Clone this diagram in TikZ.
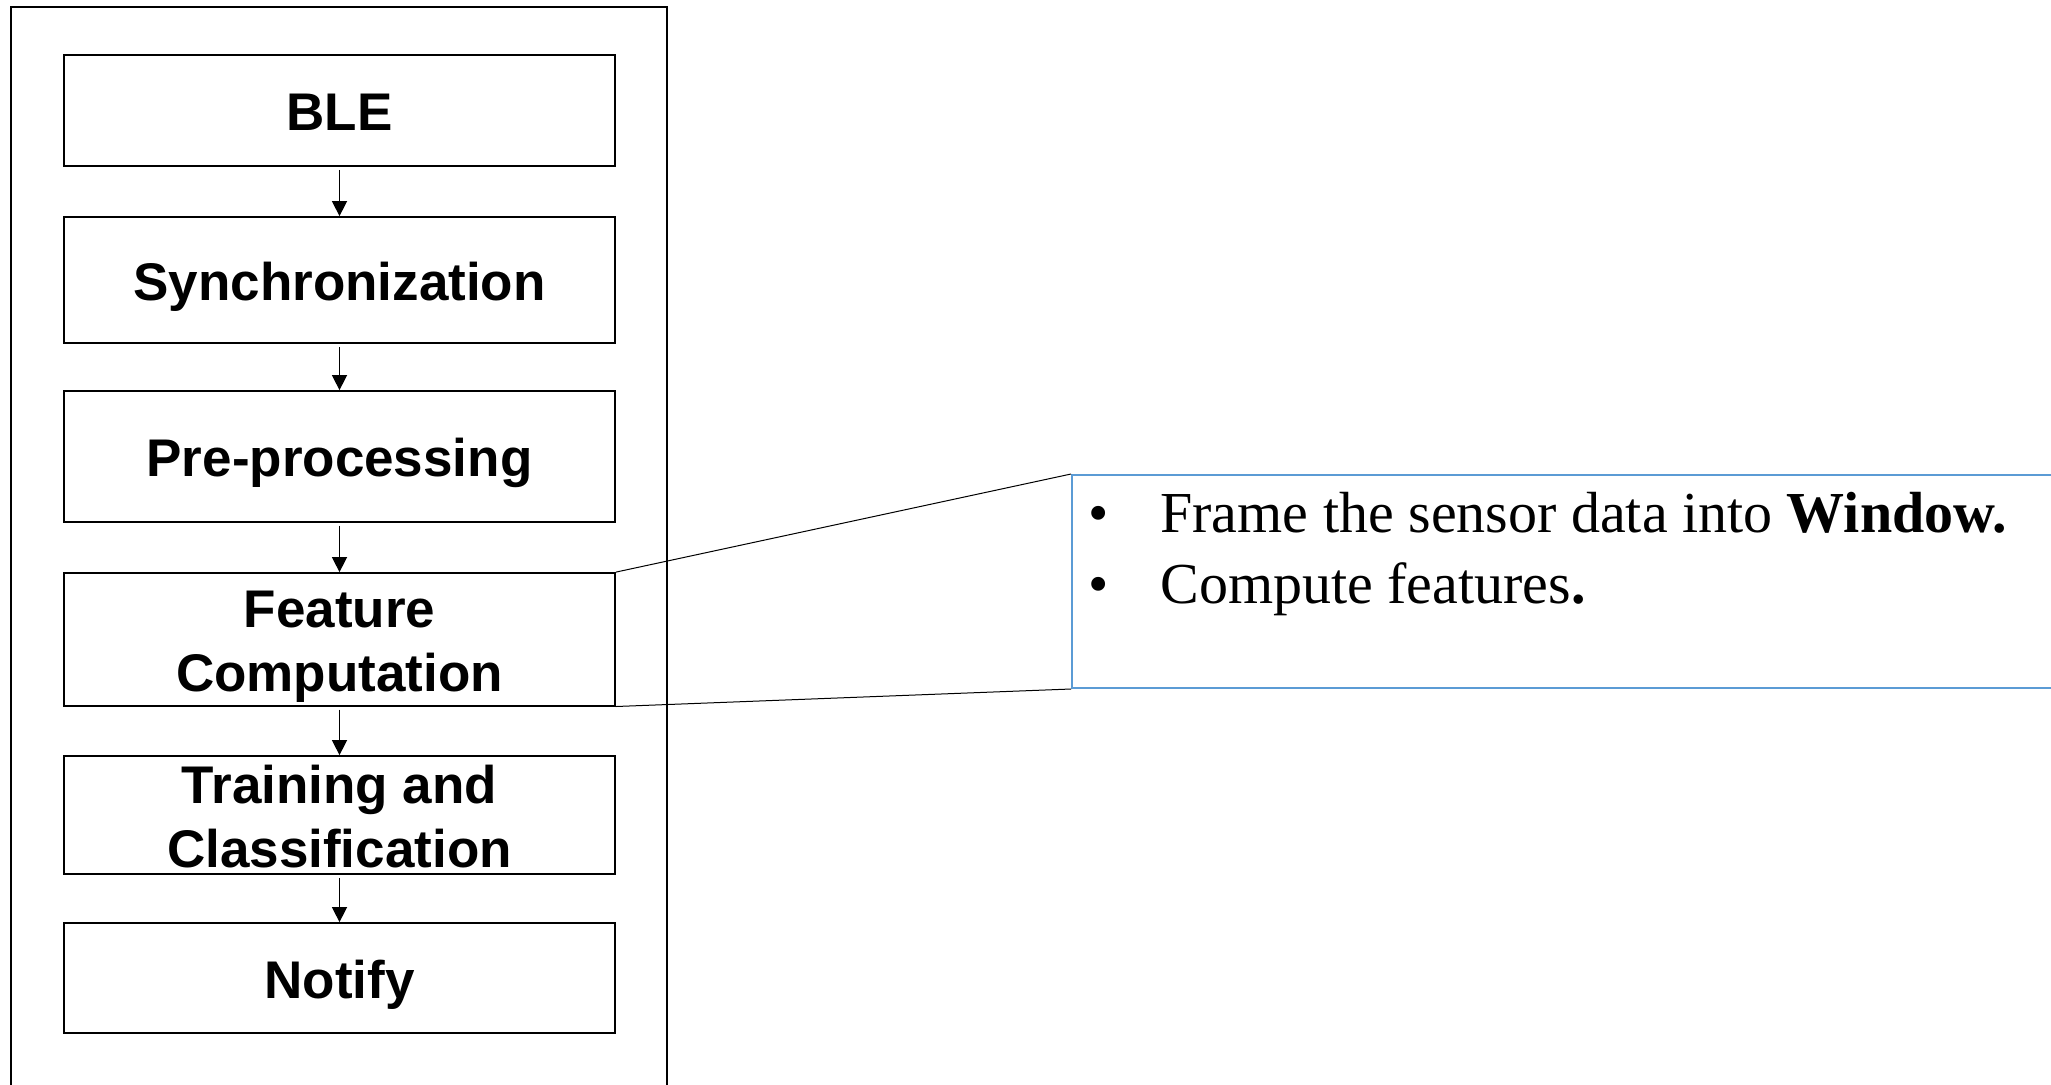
\documentclass[tikz,border=0pt]{standalone}
\usepackage{fontspec}
\newfontfamily\sansf{Liberation Sans}
\newfontfamily\seriff{Liberation Serif}
\usetikzlibrary{arrows.meta}
\definecolor{calloutblue}{RGB}{91,155,213}
\newcommand\boxstrut{\rule[-5.6pt]{0pt}{31.6pt}}
\newcommand\shortstrut{\rule{0pt}{20.4pt}}
\begin{document}
\begin{tikzpicture}[x=0.5pt,y=-0.5pt,
  stage/.style={draw=black, line width=0.9pt, minimum width=275.5pt, inner sep=0pt, align=center,
    font=\sansf\bfseries\fontsize{26.5}{32}\selectfont},
  flow/.style={-{Triangle[length=7.5pt,width=7.5pt]}, line width=0.75pt, shorten <=1.5pt},
  link/.style={line width=0.5pt},
  bullettext/.style={anchor=base west, inner sep=0pt, font=\seriff\fontsize{29}{35.5}\selectfont}]
\clip (0,0) rectangle (2051,1084);
\node[draw, line width=0.9pt, minimum width=328pt, minimum height=546.5pt, inner sep=0pt] (frame) at (339,553.5) {};
\node[stage, minimum height=55.5pt] (ble) at (339.5,110.5) {\boxstrut BLE};
\node[stage, minimum height=63pt] (sync) at (339.5,280) {\boxstrut Synchronization};
\node[stage, minimum height=65.3pt] (pre) at (339.5,456.3) {\boxstrut Pre-processing};
\node[stage, minimum height=66.3pt] (feat) at (339.5,639.3) {\boxstrut Feature\\\boxstrut Computation};
\node[stage, minimum height=59pt] (train) at (339.5,815) {\shortstrut Training and\\Classification};
\node[stage, minimum height=55pt] (notify) at (339.5,978) {\boxstrut Notify};
\draw[flow] (ble.south) -- (sync.north);
\draw[flow] (sync.south) -- (pre.north);
\draw[flow] (pre.south) -- (feat.north);
\draw[flow] (feat.south) -- (train.north);
\draw[flow] (train.south) -- (notify.north);
\node[draw=calloutblue, line width=1pt, anchor=north west, minimum width=500pt, minimum height=106.5pt, inner sep=0pt] (callout) at (1071,474) {};
\draw[link] (feat.north east) -- (callout.north west);
\draw[link] (feat.south east) -- (callout.south west);
\node[bullettext] (line1) at (1088,532) {\makebox[36pt][l]{\textbullet}Frame the sensor data into \textbf{Window.}};
\node[bullettext] (line2) at (1088,603) {\makebox[36pt][l]{\textbullet}Compute features\textbf{.}};
\end{tikzpicture}
\end{document}
